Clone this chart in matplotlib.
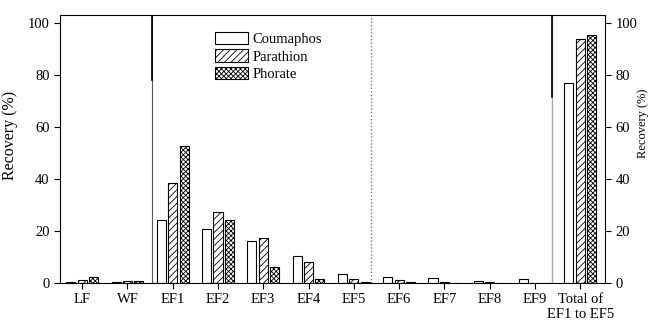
import numpy as np
import matplotlib.pyplot as plt

plt.rcParams['font.family'] = ['Liberation Serif', 'DejaVu Serif']
plt.rcParams['hatch.linewidth'] = 0.6

### data
#-------------------------------------------
labels = ["LF", "WF", "EF1", "EF2", "EF3", "EF4", "EF5",
          "EF6", "EF7", "EF8", "EF9", "Total of\nEF1 to EF5"]
coumaphos = [0.4, 0.4, 24.4, 20.9, 16.3, 10.3, 3.3, 2.5, 2.1, 0.9, 1.4, 76.7]
parathion = [1.3, 0.7, 38.6, 27.3, 17.3, 8.2, 1.5, 1.3, 0.5, 0.4, 0.0, 93.6]
phorate = [2.3, 0.9, 52.8, 24.4, 6.2, 1.4, 0.3, 0.3, 0.0, 0.0, 0.0, 95.3]

x = np.arange(len(labels))

#%%
fig = plt.figure(figsize=(6.52, 3.24), dpi=100)
ax = fig.add_axes([0.092, 0.1265, 0.836, 0.8272])

w = 0.2
ax.bar(x - 0.25, coumaphos, w, color="white", edgecolor="black", lw=0.8, label="Coumaphos")
ax.bar(x, parathion, w, color="white", edgecolor="black", lw=0.8, hatch="/////", label="Parathion")
ax.bar(x + 0.25, phorate, w, color="white", edgecolor="black", lw=0.8, hatch="xxxxxxx", label="Phorate")

# separators
ax.axvline(1.54, color="#555555", lw=0.8)
ax.plot([1.54, 1.54], [78, 103], color="black", lw=1.2)
ax.axvline(10.37, color="#aaaaaa", lw=1.0)
ax.plot([10.37, 10.37], [71.4, 103], color="black", lw=1.2)
ax.axvline(6.38, color="#777777", lw=1.0, ls=(0, (1, 1.5)))

ax.set_xlim(-0.49, 11.55)
ax.set_ylim(0, 103)
ax.set_xticks(x)
ax.set_xticklabels(labels, fontsize=10.5)
ax.set_yticks(np.arange(0, 101, 20))
ax.tick_params(axis="y", labelsize=10.5, right=True, labelright=True, direction="out", length=4)
ax.tick_params(axis="x", direction="out", length=4)
ax.set_ylabel("Recovery (%)", fontsize=11.5)
ax.yaxis.set_label_coords(-0.077, 0.549)

# right-hand axis title
fig.text(0.986, 0.62, "Recovery (%)", fontsize=9, rotation=90, ha="center", va="center")

ax.legend(loc="upper left", bbox_to_anchor=(0.26, 0.985), frameon=False, fontsize=10.5,
          handlelength=2.3, handleheight=0.9, labelspacing=0.22, handletextpad=0.3)

plt.savefig("out.png", dpi=100)
